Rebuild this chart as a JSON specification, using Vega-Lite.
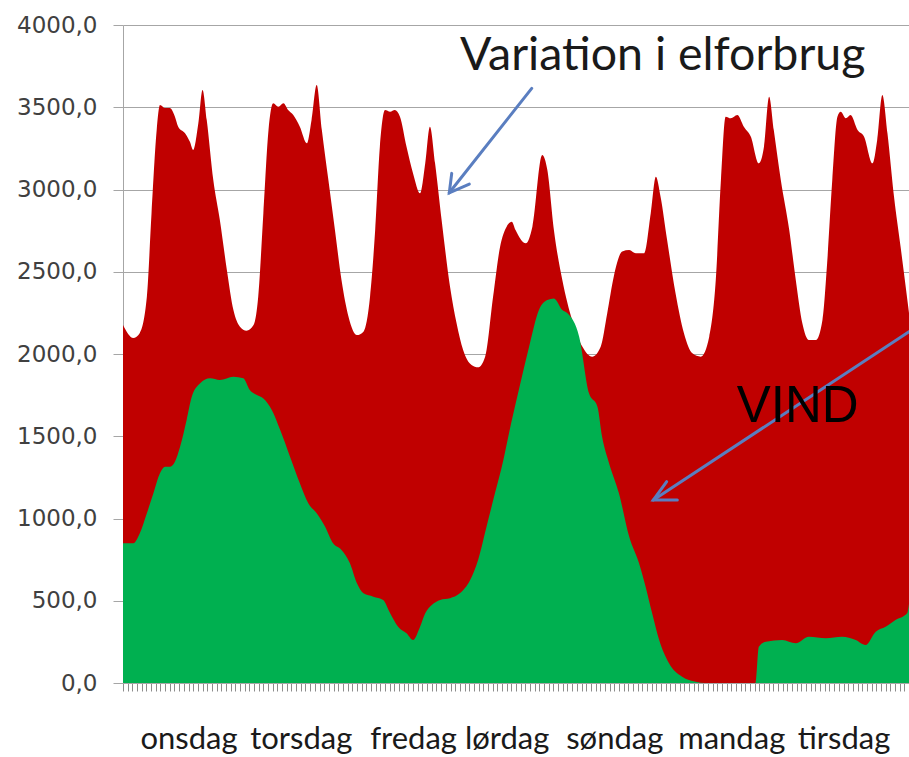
{
  "$schema": "https://vega.github.io/schema/vega-lite/v6.json",
  "width": 786,
  "height": 658,
  "autosize": {"type": "none"},
  "padding": {"left": 123, "top": 25, "right": 0, "bottom": 74},
  "background": "white",
  "config": {"view": {"stroke": null}},
  "datasets": {
    "forbrug": [
      {"t":0,"v":2176},{"t":2.2,"v":2097},{"t":3.6,"v":2128},{"t":5.1,"v":2348},{"t":6.1,"v":2857},{"t":7.2,"v":3362},{"t":7.9,"v":3514},{"t":9.0,"v":3495},{"t":10.0,"v":3495},{"t":11.1,"v":3443},{"t":11.8,"v":3382},{"t":13.3,"v":3341},{"t":14.3,"v":3290},{"t":15.0,"v":3240},{"t":16.1,"v":3402},{"t":17.0,"v":3605},{"t":17.9,"v":3423},{"t":19.3,"v":3058},{"t":20.7,"v":2815},{"t":22.2,"v":2511},{"t":23.6,"v":2267},{"t":25.0,"v":2166},{"t":26.4,"v":2142},{"t":27.9,"v":2176},{"t":28.9,"v":2348},{"t":30.0,"v":2855},{"t":31.1,"v":3362},{"t":32.1,"v":3524},{"t":33.2,"v":3503},{"t":34.3,"v":3524},{"t":35.3,"v":3483},{"t":36.4,"v":3453},{"t":37.8,"v":3382},{"t":39.3,"v":3281},{"t":40.3,"v":3423},{"t":41.4,"v":3635},{"t":42.5,"v":3362},{"t":43.9,"v":3058},{"t":45.3,"v":2754},{"t":46.7,"v":2450},{"t":48.2,"v":2227},{"t":50.0,"v":2115},{"t":51.4,"v":2136},{"t":52.8,"v":2348},{"t":53.9,"v":2754},{"t":54.9,"v":3260},{"t":56.0,"v":3483},{"t":57.1,"v":3473},{"t":58.1,"v":3483},{"t":59.2,"v":3443},{"t":60.6,"v":3260},{"t":62.0,"v":3098},{"t":63.5,"v":2977},{"t":64.6,"v":3159},{"t":65.6,"v":3382},{"t":66.7,"v":3159},{"t":68.1,"v":2815},{"t":69.9,"v":2409},{"t":71.3,"v":2187},{"t":72.7,"v":2024},{"t":74.5,"v":1933},{"t":75.9,"v":1919},{"t":77.4,"v":1984},{"t":79.1,"v":2348},{"t":80.6,"v":2652},{"t":82.0,"v":2774},{"t":83.1,"v":2804},{"t":83.9,"v":2754},{"t":86.1,"v":2673},{"t":87.5,"v":2774},{"t":89.6,"v":3210},{"t":90.7,"v":3118},{"t":92.1,"v":2754},{"t":93.9,"v":2450},{"t":96.0,"v":2207},{"t":98.2,"v":2044},{"t":100.3,"v":1984},{"t":102.1,"v":2044},{"t":103.5,"v":2247},{"t":104.9,"v":2471},{"t":106.7,"v":2623},{"t":108.2,"v":2632},{"t":109.6,"v":2612},{"t":111.4,"v":2612},{"t":112.8,"v":2855},{"t":113.9,"v":3078},{"t":114.9,"v":2956},{"t":116.3,"v":2693},{"t":118.1,"v":2369},{"t":119.9,"v":2126},{"t":121.7,"v":2004},{"t":123.5,"v":1984},{"t":125.3,"v":2105},{"t":126.7,"v":2450},{"t":127.8,"v":3058},{"t":128.8,"v":3443},{"t":129.9,"v":3433},{"t":131.3,"v":3453},{"t":132.7,"v":3382},{"t":134.2,"v":3321},{"t":135.9,"v":3159},{"t":137.0,"v":3260},{"t":138.1,"v":3564},{"t":139.1,"v":3362},{"t":140.6,"v":3058},{"t":142.4,"v":2754},{"t":143.8,"v":2450},{"t":145.2,"v":2187},{"t":146.6,"v":2085},{"t":148.1,"v":2085},{"t":149.5,"v":2207},{"t":150.5,"v":2551},{"t":151.6,"v":3058},{"t":152.7,"v":3443},{"t":153.4,"v":3473},{"t":154.5,"v":3433},{"t":155.5,"v":3453},{"t":157.0,"v":3362},{"t":158.4,"v":3321},{"t":160.2,"v":3159},{"t":161.2,"v":3301},{"t":162.3,"v":3574},{"t":163.4,"v":3341},{"t":164.8,"v":2956},{"t":166.2,"v":2652},{"t":168,"v":2250}
    ],
    "vind": [
      {"t":0,"v":849},{"t":2.2,"v":849},{"t":3.6,"v":910},{"t":5.1,"v":1032},{"t":6.5,"v":1153},{"t":7.9,"v":1275},{"t":9.0,"v":1315},{"t":10.0,"v":1315},{"t":11.1,"v":1345},{"t":12.2,"v":1436},{"t":13.6,"v":1599},{"t":14.7,"v":1740},{"t":16.5,"v":1822},{"t":18.6,"v":1852},{"t":20.7,"v":1842},{"t":23.6,"v":1862},{"t":25.7,"v":1852},{"t":27.1,"v":1781},{"t":28.6,"v":1751},{"t":30.0,"v":1730},{"t":31.8,"v":1660},{"t":33.6,"v":1538},{"t":35.7,"v":1376},{"t":37.8,"v":1214},{"t":39.6,"v":1093},{"t":41.4,"v":1032},{"t":43.2,"v":950},{"t":44.9,"v":849},{"t":46.7,"v":809},{"t":48.5,"v":728},{"t":50.0,"v":606},{"t":51.4,"v":545},{"t":53.5,"v":525},{"t":55.6,"v":505},{"t":57.1,"v":424},{"t":58.8,"v":342},{"t":60.6,"v":302},{"t":62.0,"v":261},{"t":63.5,"v":342},{"t":64.6,"v":424},{"t":66.0,"v":474},{"t":67.8,"v":505},{"t":69.9,"v":515},{"t":72.0,"v":545},{"t":74.2,"v":626},{"t":75.9,"v":748},{"t":77.7,"v":950},{"t":79.5,"v":1153},{"t":81.3,"v":1356},{"t":82.5,"v":1518},{"t":84.6,"v":1781},{"t":86.8,"v":2044},{"t":88.9,"v":2267},{"t":90.7,"v":2328},{"t":92.1,"v":2338},{"t":93.9,"v":2267},{"t":95.0,"v":2247},{"t":97.5,"v":2105},{"t":99.6,"v":1761},{"t":101.4,"v":1680},{"t":102.4,"v":1497},{"t":103.9,"v":1335},{"t":106.0,"v":1153},{"t":108.2,"v":889},{"t":110.3,"v":728},{"t":111.7,"v":585},{"t":113.1,"v":424},{"t":114.6,"v":261},{"t":116.7,"v":120},{"t":119.5,"v":38},{"t":122.4,"v":8},{"t":124.4,"v":0},{"t":135.2,"v":0},{"t":135.9,"v":220},{"t":137.4,"v":251},{"t":140.9,"v":261},{"t":143.8,"v":241},{"t":146.6,"v":281},{"t":150.2,"v":272},{"t":153.7,"v":281},{"t":156.6,"v":261},{"t":158.7,"v":231},{"t":160.9,"v":312},{"t":163.0,"v":342},{"t":165.1,"v":383},{"t":167.6,"v":424},{"t":168,"v":480}
    ],
    "pile": [
      {"seg":"a1s","o":0,"t":87.36,"v":3615},{"seg":"a1s","o":1,"t":69.74,"v":2980},
      {"seg":"a1h","o":0,"t":70.26,"v":3098},{"seg":"a1h","o":1,"t":69.74,"v":2980},{"seg":"a1h","o":2,"t":74.02,"v":3033},
      {"seg":"a2s","o":0,"t":168.0,"v":2136},{"seg":"a2s","o":1,"t":113.35,"v":1112},
      {"seg":"a2h","o":0,"t":118.48,"v":1112},{"seg":"a2h","o":1,"t":113.35,"v":1112},{"seg":"a2h","o":2,"t":116.21,"v":1224}
    ]
  },
  "encoding": {
    "x": {
      "field": "t", "type": "quantitative",
      "scale": {"domain": [0, 168], "nice": false, "zero": false},
      "axis": {
        "values": [0,1,2,3,4,5,6,7,8,9,10,11,12,13,14,15,16,17,18,19,20,21,22,23,24,25,26,27,28,29,30,31,32,33,34,35,36,37,38,39,40,41,42,43,44,45,46,47,48,49,50,51,52,53,54,55,56,57,58,59,60,61,62,63,64,65,66,67,68,69,70,71,72,73,74,75,76,77,78,79,80,81,82,83,84,85,86,87,88,89,90,91,92,93,94,95,96,97,98,99,100,101,102,103,104,105,106,107,108,109,110,111,112,113,114,115,116,117,118,119,120,121,122,123,124,125,126,127,128,129,130,131,132,133,134,135,136,137,138,139,140,141,142,143,144,145,146,147,148,149,150,151,152,153,154,155,156,157,158,159,160,161,162,163,164,165,166,167,168],
        "labelExpr": "indexof([14,38,62,82,105,130,154], datum.value) >= 0 ? ['onsdag','torsdag','fredag','lørdag','søndag','mandag','tirsdag'][indexof([14,38,62,82,105,130,154], datum.value)] : ''",
        "labelOverlap": false,
        "labelFlush": false,
        "labelFont": "Lato",
        "labelFontSize": 31,
        "labelColor": "#1a1a1a",
        "labelBaseline": "alphabetic",
        "labelAngle": 0,
        "labelPadding": 57,
        "tickSize": 8,
        "tickColor": "#8c8c8c",
        "domainColor": "#a6a6a6",
        "grid": false,
        "title": null
      }
    },
    "y": {
      "field": "v", "type": "quantitative",
      "scale": {"domain": [0, 4000], "nice": false},
      "axis": {
        "values": [0,500,1000,1500,2000,2500,3000,3500,4000],
        "labelExpr": "replace(format(datum.value, '.1f'), '.', ',')",
        "labelFont": "DejaVu Sans",
        "labelFontSize": 23,
        "labelColor": "#404040",
        "labelPadding": 16,
        "tickSize": 10,
        "tickColor": "#a6a6a6",
        "domainColor": "#a6a6a6",
        "gridColor": "#a6a6a6",
        "grid": true,
        "title": null
      }
    }
  },
  "layer": [
    {
      "data": {"name": "forbrug"},
      "mark": {"type": "area", "color": "#C00000", "interpolate": "monotone"}
    },
    {
      "data": {"name": "vind"},
      "mark": {"type": "area", "color": "#00B050", "interpolate": "monotone"}
    },
    {
      "data": {"name": "pile"},
      "mark": {"type": "line", "color": "#5A7EC0", "strokeWidth": 3, "strokeCap": "round", "strokeJoin": "miter"},
      "encoding": {
        "detail": {"field": "seg"},
        "order": {"field": "o"}
      }
    },
    {
      "data": {"values": [{"t": 72.03, "v": 3726, "label": "Variation i elforbrug"}]},
      "mark": {"type": "text", "align": "left", "baseline": "alphabetic", "font": "Lato", "fontSize": 46.5, "color": "#1a1a1a"},
      "encoding": {"text": {"field": "label"}}
    },
    {
      "data": {"values": [{"t": 131.2, "v": 1588, "label": "VIND"}]},
      "mark": {"type": "text", "align": "left", "baseline": "alphabetic", "font": "Liberation Sans", "fontSize": 51, "color": "#000000"},
      "encoding": {"text": {"field": "label"}}
    }
  ]
}
